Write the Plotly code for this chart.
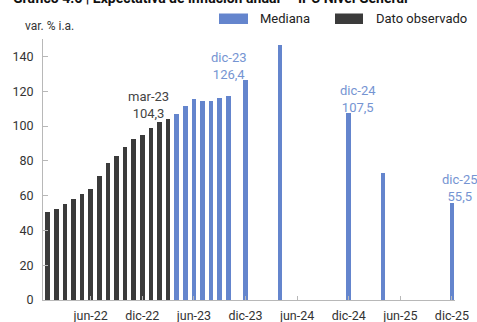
import plotly.graph_objects as go

# Month labels (Spanish abbreviations) used to place bars on a monthly axis
MESES = ["ene", "feb", "mar", "abr", "may", "jun", "jul", "ago", "sep", "oct", "nov", "dic"]

# Observed year-on-year CPI inflation (var. % i.a.)
obs_months = ["ene-22", "feb-22", "mar-22", "abr-22", "may-22", "jun-22", "jul-22",
              "ago-22", "sep-22", "oct-22", "nov-22", "dic-22", "ene-23", "feb-23", "mar-23"]
obs_values = [50.7, 52.3, 55.1, 58.0, 60.7, 64.0, 71.0, 78.5, 83.0, 88.0, 92.4, 94.8,
              98.8, 102.5, 104.3]

# Survey median expectations
med_months = ["abr-23", "may-23", "jun-23", "jul-23", "ago-23", "sep-23", "oct-23",
              "dic-23", "abr-24", "dic-24", "abr-25", "dic-25"]
med_values = [107.0, 111.6, 115.3, 114.5, 114.5, 116.0, 117.4, 126.4, 146.7, 107.5,
              73.0, 55.5]

# Axis ticks
tick_labels = ["jun-22", "dic-22", "jun-23", "dic-23", "jun-24", "dic-24", "jun-25", "dic-25"]

# Bars that carry a value label
labeled_obs = ["mar-23"]
labeled_med = ["dic-23", "dic-24", "dic-25"]

BLUE = "#6485cd"
BLUE_TXT = "#7594d2"
DARK = "#3b3b3b"
FONT = "Roboto"


def month_index(label):
    m, y = label.split("-")
    return (int(y) - 22) * 12 + MESES.index(m)


def fmt(v):
    return f"{v:.1f}".replace(".", ",")


W, H = 477, 322
L, R, T, B = 43, 22, 39, 22
PW, PH = W - L - R, H - T - B


def px(x):
    return (x - L) / PW


def py(y):
    return (H - B - y) / PH


fig = go.Figure()
fig.add_trace(go.Bar(
    x=[month_index(m) for m in obs_months], y=obs_values, width=0.52,
    marker=dict(color=DARK, line=dict(width=0)), name="Dato observado",
    hoverinfo="skip"))
fig.add_trace(go.Bar(
    x=[month_index(m) for m in med_months], y=med_values, width=0.52,
    marker=dict(color=BLUE, line=dict(width=0)), name="Mediana",
    hoverinfo="skip"))

annotations = []
for m in labeled_obs:
    v = obs_values[obs_months.index(m)]
    annotations.append(dict(
        x=month_index(m), y=v, xref="x", yref="y", text=f"{m}<br>{fmt(v)}",
        showarrow=False, xanchor="right", yanchor="bottom", xshift=3, yshift=-4,
        font=dict(family=FONT, size=13, color="#444444")))
label_shift = {"dic-23": ("right", 3, -4), "dic-24": ("center", 9, -4), "dic-25": ("center", 8, -3)}
for m in labeled_med:
    v = med_values[med_months.index(m)]
    anc, xs, ys = label_shift[m]
    annotations.append(dict(
        x=month_index(m), y=v, xref="x", yref="y", text=f"{m}<br>{fmt(v)}",
        showarrow=False, xanchor=anc, yanchor="bottom", xshift=xs, yshift=ys,
        font=dict(family=FONT, size=13, color=BLUE_TXT)))

# Title (running past the top edge of the page), unit label and legend
annotations.append(dict(
    x=px(11), y=py(-2.5), xref="paper", yref="paper", xanchor="left", yanchor="middle",
    text="<b>Gráfico 4.6 | Expectativa de inflación anual — IPC Nivel General</b>",
    showarrow=False, font=dict(family=FONT, size=14, color="#111111")))
annotations.append(dict(
    x=px(23), y=py(26), xref="paper", yref="paper", xanchor="left", yanchor="middle",
    text="var. % i.a.", showarrow=False, font=dict(family=FONT, size=12, color="#333333")))

shapes = []
legend_items = [("Mediana", BLUE, 219, 248, 258), ("Dato observado", DARK, 335, 363, 374)]
for name, col, x0, x1, tx in legend_items:
    shapes.append(dict(type="rect", xref="paper", yref="paper",
                       x0=px(x0), x1=px(x1), y0=py(24), y1=py(13.5),
                       fillcolor=col, line=dict(width=0)))
    annotations.append(dict(
        x=px(tx), y=py(18.5), xref="paper", yref="paper", xanchor="left", yanchor="middle",
        text=name, showarrow=False, font=dict(family=FONT, size=13, color="#222222")))

fig.update_layout(
    width=W, height=H, margin=dict(l=L, r=R, t=T, b=B, autoexpand=False),
    paper_bgcolor="white", plot_bgcolor="white", showlegend=False,
    bargap=0, barmode="overlay",
    annotations=annotations, shapes=shapes,
    font=dict(family=FONT, size=12.5, color="#333333"),
)
fig.update_xaxes(
    range=[-0.55, 47.36], tickmode="array",
    tickvals=[month_index(t) for t in tick_labels], ticktext=tick_labels,
    showline=True, linecolor="#b8b8b8", linewidth=1,
    ticks="inside", ticklen=4, tickcolor="#b8b8b8",
    showgrid=False, zeroline=False, ticklabelstandoff=4, automargin=False,
    tickfont=dict(family=FONT, size=12.5, color="#333333"))
fig.update_yaxes(
    range=[0, 150], tickvals=[0, 20, 40, 60, 80, 100, 120, 140],
    showline=True, linecolor="#b8b8b8", linewidth=1,
    ticks="inside", ticklen=5, tickcolor="#b8b8b8",
    showgrid=False, zeroline=False, ticklabelstandoff=6, automargin=False,
    tickfont=dict(family=FONT, size=12.5, color="#333333"))

fig.write_html("out.html")
